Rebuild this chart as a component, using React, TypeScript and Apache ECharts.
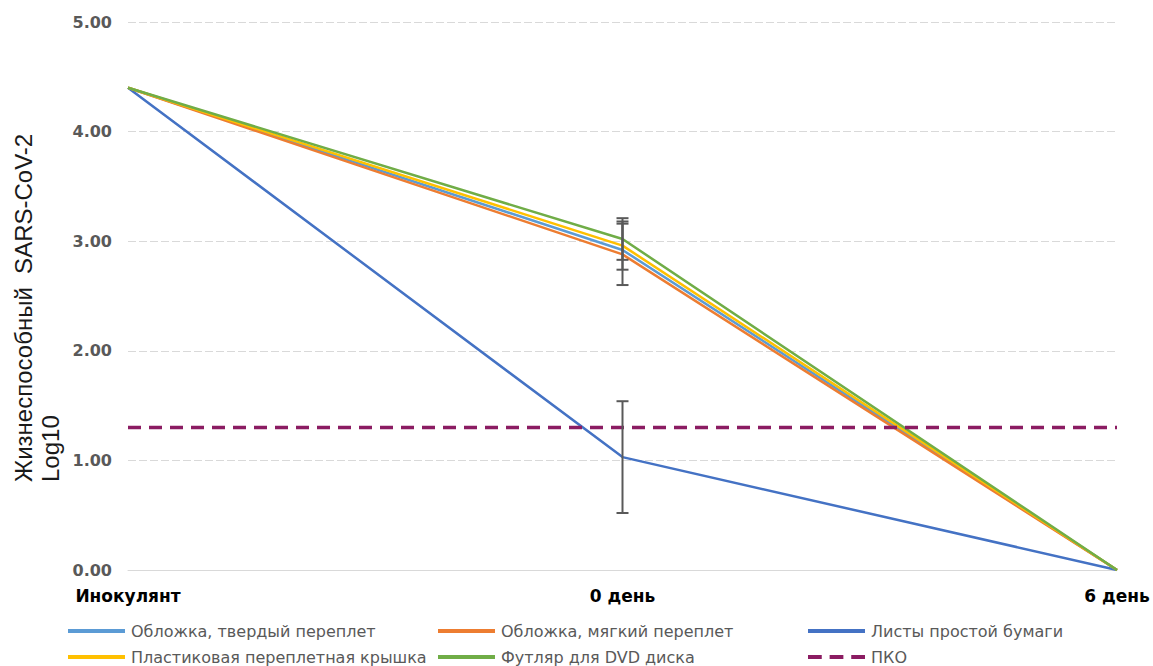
import React, { useEffect, useRef } from "react";
import * as echarts from "echarts";

const categories = ["Инокулянт", "0 день", "6 день"];
const hardCover = [4.4, 2.92, 0];
const softCover = [4.4, 2.88, 0];
const plainPaper = [4.4, 1.03, 0];
const plasticCover = [4.4, 2.96, 0];
const dvdCase = [4.4, 3.02, 0];
const lod = [1.3, 1.3, 1.3];

// error bars at "0 день"
const errCategoryIndex = [1, 1, 1, 1];
const errCenters = [3.02, 2.96, 2.88, 1.03];
const errSizes = [0.19, 0.22, 0.28, 0.51];

const yTicks = [0, 1, 2, 3, 4, 5];

const seriesNames = [
  "Обложка, твердый переплет",
  "Обложка, мягкий переплет",
  "Листы простой бумаги",
  "Пластиковая переплетная крышка",
  "Футляр для DVD диска",
  "ПКО",
];
const seriesColors = ["#5B9BD5", "#ED7D31", "#4472C4", "#FFC000", "#70AD47", "#8B1C62"];

export default function App() {
  const ref = useRef<HTMLDivElement>(null);
  useEffect(() => {
    if (!ref.current) return;
    const chart = echarts.init(ref.current, null, { renderer: "svg" });
    const values = [hardCover, softCover, plainPaper, plasticCover, dvdCase, lod];
    const lineSeries = values.map((v, i) => ({
      name: seriesNames[i],
      type: "line",
      data: v,
      symbol: "none",
      color: seriesColors[i],
      lineStyle:
        i === 5
          ? { color: seriesColors[i], width: 3.5, type: [13, 8] }
          : { color: seriesColors[i], width: 2.5 },
      z: i === 5 ? 4 : 3,
    }));
    const errData = errCenters.map((c, i) => [errCategoryIndex[i], c - errSizes[i], c + errSizes[i]]);
    const legendPos = [
      [68, 623],
      [438, 623],
      [808, 623],
      [68, 649],
      [438, 649],
      [808, 649],
    ];
    const dashIcon = "path://M0,0h14v4h-14z M22,0h14v4h-14z M44,0h14v4h-14z";
    const legends = seriesNames.map((n, i) => ({
      data: [{ name: n, icon: i === 5 ? dashIcon : "rect" }],
      left: legendPos[i][0],
      top: legendPos[i][1],
      padding: 0,
      itemWidth: 57,
      itemHeight: 4,
      itemStyle: { color: seriesColors[i], borderWidth: 0 },
      lineStyle: { width: 0 },
      textStyle: { fontFamily: "DejaVu Sans", fontSize: 16, color: "#595959", padding: [0, 0, 0, 1] },
    }));
    chart.setOption({
      animation: false,
      backgroundColor: "#ffffff",
      grid: { left: 128, right: 36, top: 22, bottom: 96 },
      legend: legends,
      xAxis: {
        type: "category",
        data: categories,
        boundaryGap: false,
        axisLine: { lineStyle: { color: "#d9d9d9", width: 1 } },
        axisTick: { show: false },
        axisLabel: {
          margin: 17,
          fontFamily: "DejaVu Sans",
          fontWeight: "bold",
          fontSize: 17,
          color: "#000000",
        },
      },
      yAxis: {
        type: "value",
        min: yTicks[0],
        max: yTicks[yTicks.length - 1],
        interval: 1,
        axisLine: { show: false },
        axisTick: { show: false },
        splitLine: { lineStyle: { color: "#d9d9d9", width: 1, type: [8, 3] } },
        axisLabel: {
          margin: 16,
          formatter: (v: number) => v.toFixed(2),
          fontFamily: "DejaVu Sans",
          fontWeight: "bold",
          fontSize: 16,
          color: "#595959",
        },
      },
      graphic: [
        {
          type: "text",
          x: 10,
          y: 482,
          rotation: Math.PI / 2,
          style: {
            text: "Жизнеспособный  SARS-CoV-2\nLog10",
            fontFamily: "Liberation Sans",
            fontSize: 24,
            lineHeight: 27,
            fill: "#1a1a1a",
            align: "left",
            verticalAlign: "top",
          },
        },
      ],
      series: [
        ...lineSeries,
        {
          type: "custom",
          name: "err",
          data: errData,
          z: 5,
          renderItem: (_p: any, api: any) => {
            const x = api.value(0);
            const lo = api.coord([x, api.value(1)]);
            const hi = api.coord([x, api.value(2)]);
            const w = 6;
            const st = { stroke: "#595959", lineWidth: 2 };
            return {
              type: "group",
              children: [
                { type: "line", shape: { x1: lo[0], y1: lo[1], x2: hi[0], y2: hi[1] }, style: st },
                { type: "line", shape: { x1: lo[0] - w, y1: lo[1], x2: lo[0] + w, y2: lo[1] }, style: st },
                { type: "line", shape: { x1: hi[0] - w, y1: hi[1], x2: hi[0] + w, y2: hi[1] }, style: st },
              ],
            };
          },
        },
      ],
    });
    return () => chart.dispose();
  }, []);
  return <div ref={ref} style={{ width: 1153, height: 666, position: "absolute", left: 0, top: 0 }} />;
}
